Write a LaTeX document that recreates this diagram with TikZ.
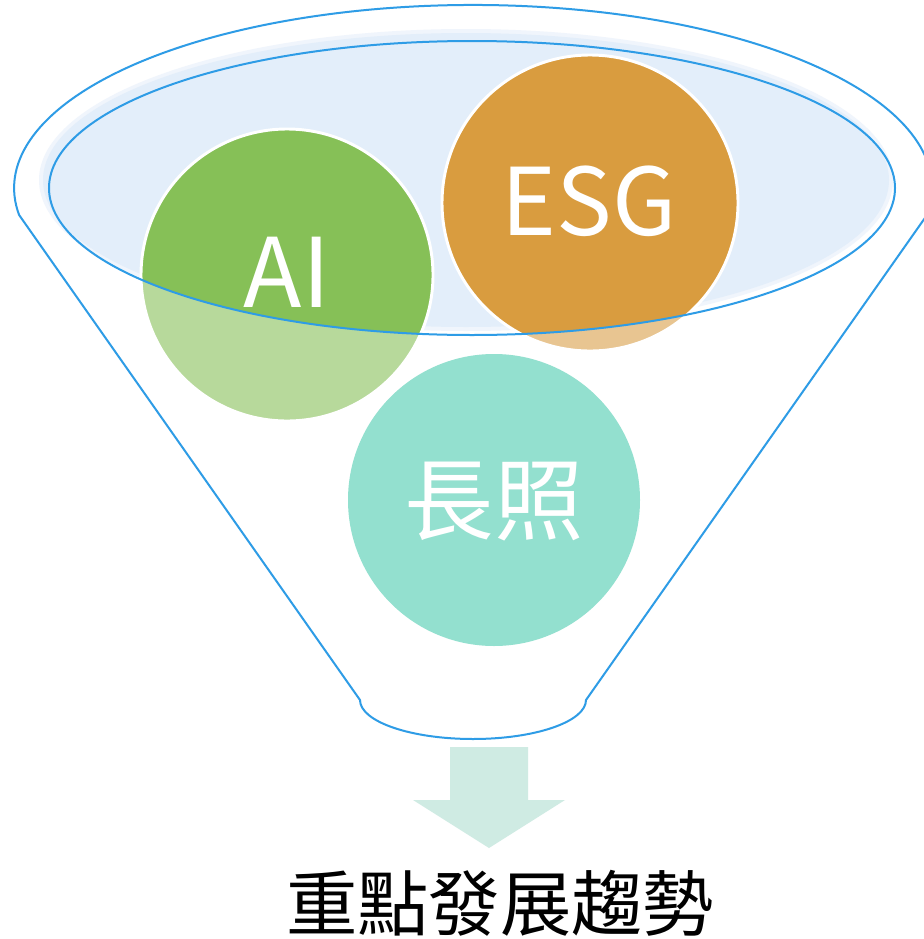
\documentclass[tikz,border=0pt]{standalone}
\usepackage{fontspec}
\setmainfont{Noto Sans CJK TC}
\newfontfamily\cjkfont{Noto Sans CJK TC}
\definecolor{funnelblue}{HTML}{2E9CE6}
\definecolor{bowlfill}{HTML}{E3EEFA}
\definecolor{bowlhalo}{HTML}{F0F5FC}
\definecolor{aidark}{HTML}{86C057}
\definecolor{ailight}{HTML}{B7D99B}
\definecolor{esgdark}{HTML}{D99C3F}
\definecolor{esglight}{HTML}{E8C591}
\definecolor{ltcteal}{HTML}{93E0CF}
\definecolor{arrowteal}{HTML}{CFEBE3}
\tikzset{
  funnelline/.style={draw=funnelblue, line width=1.5pt},
  ringline/.style={draw=white, line width=2.2pt},
  bigtext/.style={text=white, inner sep=0pt, font=\cjkfont\fontsize{72}{72}\selectfont},
  titletext/.style={text=black, inner sep=0pt, font=\cjkfont\fontsize{53.5}{53.5}\selectfont}
}
\begin{document}
\begin{tikzpicture}[x=0.75pt,y=-0.75pt]
\useasboundingbox (0,0) rectangle (924,939);
\fill[white] (0,0) rectangle (924,939);
% bowl fill (offset soft shadow)
\fill[bowlhalo] (466,180) ellipse[x radius=427, y radius=151];
\fill[bowlfill] (466,180) ellipse[x radius=423, y radius=147];
% AI circle
\fill[ailight] (287,275) circle[radius=146];
\begin{scope}
  \clip (472,188) ellipse[x radius=423, y radius=147];
  \fill[aidark] (287,275) circle[radius=146];
\end{scope}
\draw[ringline] (287,275) circle[radius=146];
% ESG circle
\fill[esglight] (590,203) circle[radius=148];
\begin{scope}
  \clip (472,188) ellipse[x radius=423, y radius=147];
  \fill[esgdark] (590,203) circle[radius=148];
\end{scope}
\draw[ringline] (590,203) circle[radius=148];
% bowl rim
\draw[funnelline] (472,188) ellipse[x radius=423, y radius=147];
% funnel outline
\draw[funnelline, line join=round] (360,700) arc[start angle=180, end angle=0, x radius=113, y radius=39]
  -- (927,215) arc[start angle=368.5, end angle=171.5, x radius=459, y radius=183] -- cycle;
% long-term care circle
\fill[ltcteal] (494,500) circle[radius=146];
% arrow
\fill[arrowteal] (450,747) -- (528,747) -- (528,800) -- (565,800) -- (489,848) -- (413,800) -- (450,800) -- cycle;
% texts
\node[bigtext] (ai) at (287,272) {AI};
\node[bigtext, font=\cjkfont\fontsize{70}{70}\selectfont] (esg) at (589,201) {ESG};
\node[bigtext, font=\cjkfont\fontsize{67}{67}\selectfont] (ltc) at (494,502) {長照};
\node[titletext] (trend) at (500,903) {重點發展趨勢};
\end{tikzpicture}
\end{document}
